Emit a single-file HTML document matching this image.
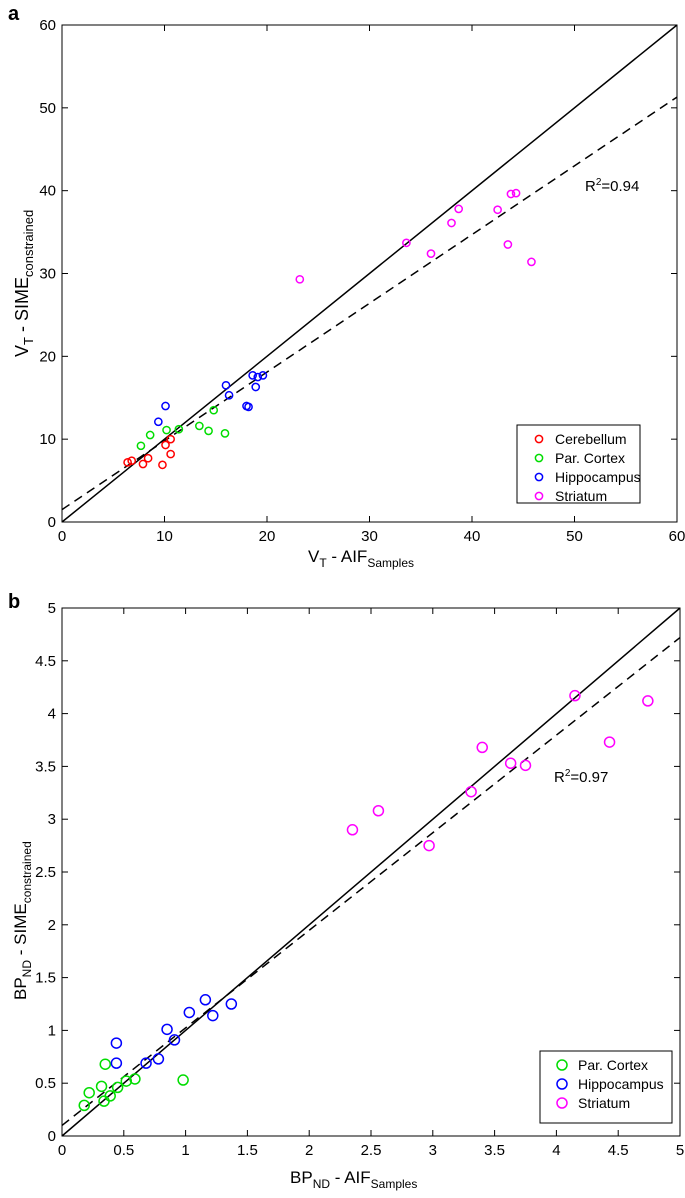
<!DOCTYPE html>
<html><head><meta charset="utf-8"><style>
body{margin:0;background:#fff}
svg{display:block;font-family:"Liberation Sans",Arial,sans-serif}
</style></head><body>
<svg id="s" width="685" height="1198"></svg>
<script>
// Panel a data
const aCerX=[6.4,6.8,7.9,8.4,9.8,10.1,10.6,10.6];
const aCerY=[7.2,7.4,7.0,7.7,6.9,9.3,10.0,8.2];
const aParX=[7.7,8.6,10.2,11.4,13.4,14.3,14.8,15.9];
const aParY=[9.2,10.5,11.1,11.2,11.6,11.0,13.5,10.7];
const aHipX=[9.4,10.1,16.0,16.3,18.0,18.2,18.6,18.9,19.1,19.6];
const aHipY=[12.1,14.0,16.5,15.3,14.0,13.9,17.7,16.3,17.5,17.7];
const aStrX=[23.2,33.6,36.0,38.0,38.7,42.5,43.5,43.8,44.3,45.8];
const aStrY=[29.3,33.7,32.4,36.1,37.8,37.7,33.5,39.6,39.7,31.4];
const aFit=[1.5,0.83];
const aTicks=[0,10,20,30,40,50,60];
// Panel b data
const bParX=[0.18,0.22,0.32,0.34,0.35,0.39,0.45,0.52,0.59,0.98];
const bParY=[0.29,0.41,0.47,0.33,0.68,0.38,0.46,0.52,0.54,0.53];
const bHipX=[0.44,0.44,0.68,0.78,0.85,0.91,1.03,1.16,1.22,1.37];
const bHipY=[0.88,0.69,0.69,0.73,1.01,0.91,1.17,1.29,1.14,1.25];
const bStrX=[2.35,2.56,2.97,3.31,3.40,3.63,3.75,4.15,4.43,4.74];
const bStrY=[2.90,3.08,2.75,3.26,3.68,3.53,3.51,4.17,3.73,4.12];
const bFit=[0.1,0.924];
const bTicks=[0,0.5,1,1.5,2,2.5,3,3.5,4,4.5,5];

const NS="http://www.w3.org/2000/svg",S=document.getElementById('s');
function el(t,a,p){const e=document.createElementNS(NS,t);for(const k in a)e.setAttribute(k,a[k]);(p||S).appendChild(e);return e;}

function panel(o){
  const g=el('g',{});
  
  
  const X=v=>o.x0+(v-o.min)/(o.max-o.min)*(o.x1-o.x0);
  const Y=v=>o.y0-(v-o.min)/(o.max-o.min)*(o.y0-o.y1);
  const fr=el('rect',{x:o.x0,y:o.y1,width:o.x1-o.x0,height:o.y0-o.y1,fill:'none',stroke:'#000','stroke-width':1},g);
  
  o.ticks.forEach(t=>{
    el('line',{x1:X(t),x2:X(t),y1:o.y0,y2:o.y0-6,stroke:'#000'},g);
    el('line',{x1:X(t),x2:X(t),y1:o.y1,y2:o.y1+6,stroke:'#000'},g);
    el('line',{x1:o.x0,x2:o.x0+6,y1:Y(t),y2:Y(t),stroke:'#000'},g);
    el('line',{x1:o.x1,x2:o.x1-6,y1:Y(t),y2:Y(t),stroke:'#000'},g);
    const tx=el('text',{x:X(t),y:o.y0+19,'text-anchor':'middle','font-size':15},g);tx.textContent=t;
    
    const ty=el('text',{x:o.x0-6,y:Y(t)+5,'text-anchor':'end','font-size':15},g);ty.textContent=t;
    
  });
  const id=el('line',{x1:X(o.min),y1:Y(o.min),x2:X(o.max),y2:Y(o.max),stroke:'#000','stroke-width':1.5},g);
  
  const fl=el('line',{x1:X(o.min),y1:Y(o.fit[0]+o.fit[1]*o.min),x2:X(o.max),y2:Y(o.fit[0]+o.fit[1]*o.max),stroke:'#000','stroke-width':1.5,'stroke-dasharray':'9,6'},g);
  
  o.series.forEach(s=>{
    s.x.forEach((v,i)=>{
      const c=el('circle',{cx:X(v),cy:Y(s.y[i]),r:o.r,fill:'none',stroke:s.c,'stroke-width':1.5},g);
      
      
    });
  });
  return {X,Y,g};
}
function legend(x,y,w,h,items,r){
  const g=el('g',{});
  
  
  el('rect',{x,y,width:w,height:h,fill:'#fff',stroke:'#000'},g);
  items.forEach((it,i)=>{
    const cy=y+14+i*19;
    el('circle',{cx:x+22,cy,r,fill:'none',stroke:it[1],'stroke-width':1.5},g);
    const t=el('text',{x:x+38,y:cy+5,'font-size':14},g);t.textContent=it[0];
    
  });
}
// Panel a
panel({name:'panel-a',x0:62,x1:677,y0:522,y1:25,min:0,max:60,ticks:aTicks,fit:aFit,r:3.6,series:[
 {key:'cerebellum',c:'#ff0000',x:aCerX,y:aCerY},{key:'par-cortex',c:'#00dd00',x:aParX,y:aParY},
 {key:'hippocampus',c:'#0000ff',x:aHipX,y:aHipY},{key:'striatum',c:'#ff00ff',x:aStrX,y:aStrY}]});
legend(517,425,123,78,[['Cerebellum','#ff0000'],['Par. Cortex','#00dd00'],['Hippocampus','#0000ff'],['Striatum','#ff00ff']],3.6);
// Panel b
panel({name:'panel-b',x0:62,x1:680,y0:1136,y1:608,min:0,max:5,ticks:bTicks,fit:bFit,r:5,series:[
 {key:'par-cortex',c:'#00dd00',x:bParX,y:bParY},{key:'hippocampus',c:'#0000ff',x:bHipX,y:bHipY},
 {key:'striatum',c:'#ff00ff',x:bStrX,y:bStrY}]});
legend(540,1051,132,72,[['Par. Cortex','#00dd00'],['Hippocampus','#0000ff'],['Striatum','#ff00ff']],5);
</script>
<svg style="position:absolute;left:0;top:0" width="685" height="1198">
<g font-family="Liberation Sans,Arial,sans-serif">
<text x="8" y="20" font-size="20" font-weight="bold">a</text>
<text x="8" y="608" font-size="20" font-weight="bold">b</text>
<text x="585" y="191" font-size="15">R<tspan dy="-6" font-size="10">2</tspan><tspan dy="6">=0.94</tspan></text>
<text x="554" y="782" font-size="15">R<tspan dy="-6" font-size="10">2</tspan><tspan dy="6">=0.97</tspan></text>
<text x="308" y="562" font-size="17">V<tspan dy="5" font-size="12">T</tspan><tspan dy="-5"> - AIF</tspan><tspan dy="5" font-size="12">Samples</tspan></text>
<text transform="translate(28,357) rotate(-90)" font-size="18">V<tspan dy="5" font-size="13">T</tspan><tspan dy="-5"> - SIME</tspan><tspan dy="5" font-size="13">constrained</tspan></text>
<text x="290" y="1183" font-size="17">BP<tspan dy="5" font-size="12">ND</tspan><tspan dy="-5"> - AIF</tspan><tspan dy="5" font-size="12">Samples</tspan></text>
<text transform="translate(26,1000) rotate(-90)" font-size="17">BP<tspan dy="5" font-size="12">ND</tspan><tspan dy="-5"> - SIME</tspan><tspan dy="5" font-size="12">constrained</tspan></text>
</g></svg>
</body></html>
